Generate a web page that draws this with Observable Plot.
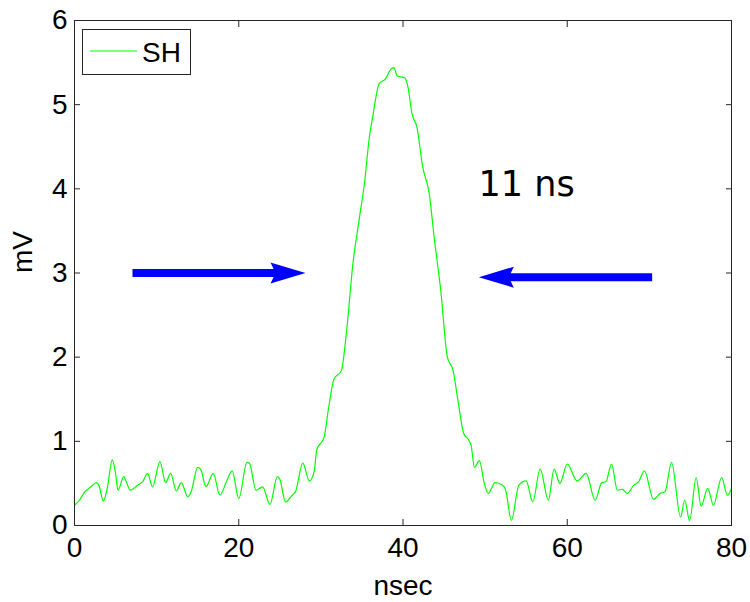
<!DOCTYPE html>
<html><head><meta charset="utf-8">
<script src="https://cdn.jsdelivr.net/npm/d3@7"></script>
<script src="https://cdn.jsdelivr.net/npm/@observablehq/plot@0.6"></script>
<style>body{margin:0;background:#fff} #chart{width:750px;height:602px}</style>
</head><body><div id="chart"></div>
<script>
// Signal trace (nsec, mV)
const time = [0,0.6,1.25,2.0,2.67,3.0,3.5,4.0,4.6,5.0,5.3,6.0,6.3,6.8,7.7,8.3,8.9,9.5,10.4,11.1,11.7,12.4,13.0,13.8,14.2,15.0,15.4,16.0,16.9,17.7,18.5,19.2,20.0,21.0,21.3,22.1,22.9,23.8,24.7,25.0,25.7,26.6,26.9,27.8,28.6,29.2,29.5,30.4,30.9,31.6,32.5,33.1,33.9,34.7,35.3,35.9,36.3,37.1,37.9,38.5,38.9,39.3,40.2,40.6,41.1,41.7,42.4,43.2,43.8,44.6,45.4,46.1,46.7,47.4,47.9,48.3,48.7,49.3,49.9,50.4,51.2,52.1,52.5,53.2,54.1,55.0,55.8,56.7,57.7,58.4,59.1,60.0,61.2,62.3,63.4,64.2,64.7,65.4,66.1,66.7,67.3,68.1,68.7,69.4,70.5,71.3,71.9,72.7,73.8,74.3,74.9,75.7,76.3,77.1,77.8,78.8,79.5,80];
const mv = [0.24,0.30,0.40,0.46,0.51,0.47,0.29,0.45,0.78,0.62,0.42,0.58,0.52,0.42,0.48,0.52,0.62,0.46,0.76,0.51,0.62,0.41,0.51,0.34,0.40,0.69,0.66,0.46,0.62,0.36,0.52,0.65,0.32,0.75,0.74,0.42,0.46,0.25,0.58,0.55,0.28,0.37,0.40,0.74,0.53,0.65,0.90,1.05,1.37,1.74,1.84,2.28,3.11,3.66,4.06,4.61,4.85,5.25,5.31,5.42,5.44,5.34,5.32,5.21,4.89,4.73,4.26,3.94,3.42,2.79,2.00,1.84,1.48,1.09,1.03,0.95,0.69,0.77,0.50,0.38,0.51,0.48,0.42,0.06,0.48,0.53,0.28,0.67,0.30,0.67,0.50,0.73,0.53,0.62,0.30,0.51,0.52,0.73,0.42,0.43,0.38,0.48,0.52,0.65,0.31,0.38,0.40,0.75,0.10,0.30,0.06,0.57,0.23,0.44,0.24,0.57,0.36,0.44];
const seriesName = "SH";

// Width arrows
const arrowX1 = [7.06, 70.34];
const arrowX2 = [28.13, 49.23];
const arrowY = [3.0, 2.95];

// Annotation
const noteText = ["11 ns"];
const noteX = [49.2];
const noteY = [4.05];

// Axes
const xTicks = [0, 20, 40, 60, 80];
const yTicks = [0, 1, 2, 3, 4, 5, 6];
const xLabel = "nsec";
const yLabel = "mV";

const data = time.map((t, i) => ({t, v: mv[i]}));
const arrows = arrowX1.map((x1, i) => ({x1, x2: arrowX2[i], y: arrowY[i]}));
const notes = noteText.map((s, i) => ({s, x: noteX[i], y: noteY[i]}));

const headSymbol = {
  draw(ctx) {
    ctx.moveTo(0, 0);
    ctx.lineTo(-35, -10.5);
    ctx.lineTo(-30, 0);
    ctx.lineTo(-35, 10.5);
    ctx.closePath();
  }
};

const axisColor = "#262626";
const font = "'Liberation Sans', Arial, Helvetica, sans-serif";
const fmt = d => String(d);

const plot = Plot.plot({
  width: 750, height: 602,
  marginLeft: 74, marginRight: 19, marginTop: 20, marginBottom: 77,
  style: {fontFamily: font, fontSize: "28px", color: "#000", background: "#fff"},
  x: {domain: [0, 80]},
  y: {domain: [0, 6]},
  marks: [
    Plot.line(data, {x: "t", y: "v", stroke: "#00ff00", strokeWidth: 1.2, curve: "monotone-x"}),
    Plot.arrow(arrows, {x1: "x1", x2: "x2", y1: "y", y2: "y", stroke: "#0000ff", strokeWidth: 8, headLength: 0, insetEnd: 29, strokeLinecap: "butt"}),
    Plot.dot(arrows, {x: "x2", y: "y", symbol: headSymbol, fill: "#0000ff", rotate: d => d.x2 < d.x1 ? 180 : 0}),
    Plot.text(notes, {x: "x", y: "y", text: "s", textAnchor: "start", lineAnchor: "middle", fontFamily: "'DejaVu Sans', sans-serif", fontSize: 35, fill: "#000"}),
    Plot.frame({stroke: axisColor}),
    Plot.axisX({ticks: xTicks, tickSize: -6, tickPadding: 18, tickFormat: fmt, label: null, stroke: axisColor}),
    Plot.axisX({anchor: "top", ticks: xTicks, tickSize: -6, tickFormat: () => "", label: null, stroke: axisColor}),
    Plot.axisY({ticks: yTicks, tickSize: -6, tickPadding: 13, tickFormat: fmt, label: null, stroke: axisColor}),
    Plot.axisY({anchor: "right", ticks: yTicks, tickSize: -6, tickFormat: () => "", label: null, stroke: axisColor}),
    Plot.text([xLabel], {frameAnchor: "bottom", dy: 61, lineAnchor: "middle", fontSize: 28, fill: "#000"}),
    Plot.text([yLabel], {frameAnchor: "left", dx: -51, rotate: -90, lineAnchor: "middle", fontSize: 28, fill: "#000"})
  ]
});

// Legend box (inside plot, top-left)
const svg = d3.select(plot);
const g = svg.append("g");
g.append("rect").attr("x", 82.5).attr("y", 29.5).attr("width", 108).attr("height", 45)
  .attr("fill", "#fff").attr("stroke", axisColor);
g.append("line").attr("x1", 90).attr("x2", 137).attr("y1", 51).attr("y2", 51)
  .attr("stroke", "#00ff00").attr("stroke-width", 1.2);
g.append("text").attr("x", 142).attr("y", 62).attr("text-anchor", "start").text(seriesName)
  .attr("font-family", font).attr("font-size", 28).attr("fill", "#000");

document.getElementById("chart").appendChild(plot);
</script>
</body></html>
